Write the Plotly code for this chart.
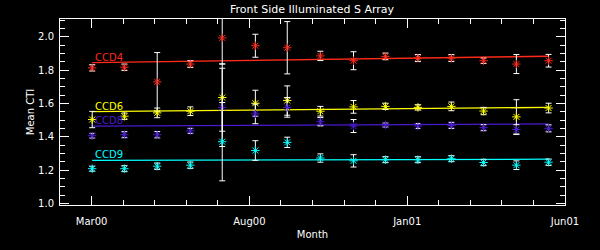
import plotly.graph_objects as go

# x positions in months since Jan 2000 (3 = Mar00, 18 = Jun01)
months = [3.02, 4.04, 5.08, 6.13, 7.14, 8.19, 9.20, 10.25, 11.30, 12.31, 13.34, 14.40, 15.42, 16.46, 17.48]

ccd4 = [1.814, 1.818, 1.730, 1.837, 1.994, 1.947, 1.935, 1.886, 1.857, 1.883, 1.873, 1.873, 1.857, 1.837, 1.857]
ccd4_err = [0.019, 0.019, 0.176, 0.020, 0.157, 0.069, 0.157, 0.028, 0.054, 0.020, 0.021, 0.021, 0.016, 0.057, 0.038]

ccd6 = [1.504, 1.524, 1.544, 1.554, 1.636, 1.602, 1.618, 1.554, 1.580, 1.583, 1.577, 1.583, 1.555, 1.520, 1.573]
ccd6_err = [0.049, 0.019, 0.029, 0.026, 0.202, 0.078, 0.088, 0.029, 0.038, 0.019, 0.016, 0.026, 0.022, 0.103, 0.029]

ccd8 = [1.407, 1.413, 1.413, 1.436, 1.577, 1.538, 1.577, 1.491, 1.465, 1.471, 1.465, 1.469, 1.455, 1.444, 1.451]
ccd8_err = [0.014, 0.018, 0.019, 0.015, 0.235, 0.059, 0.059, 0.025, 0.039, 0.012, 0.015, 0.018, 0.018, 0.029, 0.021]

ccd9 = [1.209, 1.209, 1.224, 1.230, 1.371, 1.318, 1.367, 1.273, 1.256, 1.263, 1.263, 1.269, 1.246, 1.230, 1.248]
ccd9_err = [0.015, 0.018, 0.019, 0.019, 0.235, 0.059, 0.031, 0.025, 0.037, 0.018, 0.018, 0.018, 0.019, 0.026, 0.019]

trend_x = [3.02, 17.48]
ccd4_trend = [1.846, 1.884]
ccd6_trend = [1.552, 1.577]
ccd8_trend = [1.464, 1.478]
ccd9_trend = [1.259, 1.266]

tick_vals = [3, 8, 13, 18]
tick_text = ["Mar00", "Aug00", "Jan01", "Jun01"]
minor_vals = list(range(2, 19))

series = [
    ("CCD4", ccd4, ccd4_err, ccd4_trend, "#ff2a1a"),
    ("CCD6", ccd6, ccd6_err, ccd6_trend, "#ffff00"),
    ("CCD8", ccd8, ccd8_err, ccd8_trend, "#4a1ad0"),
    ("CCD9", ccd9, ccd9_err, ccd9_trend, "#00ffff"),
]

FONT = "DejaVu Sans"
fig = go.Figure()

for name, vals, errs, trend, col in series:
    fig.add_trace(go.Scatter(
        x=trend_x, y=trend, mode="lines",
        line=dict(color=col, width=1.3), hoverinfo="skip", showlegend=False))

for name, vals, errs, trend, col in series:
    fig.add_trace(go.Scatter(
        x=months, y=vals, mode="markers", name=name,
        marker=dict(symbol="asterisk-open", size=7, color=col,
                    line=dict(color=col, width=1)),
        error_y=dict(type="data", array=errs, visible=True,
                     color="white", thickness=1, width=3),
        showlegend=False))
    fig.add_annotation(x=trend_x[0], y=trend[0], text=name, showarrow=False,
                       xanchor="left", yanchor="bottom", xshift=1, yshift=-2,
                       font=dict(family=FONT, size=10, color=col))

axis_common = dict(
    showline=True, linecolor="white", linewidth=1, mirror="ticks",
    ticks="inside", tickcolor="white", ticklen=9, tickwidth=1,
    showgrid=False, zeroline=False,
    tickfont=dict(family=FONT, size=10, color="white"),
)

fig.update_xaxes(
    range=[2, 18], tickmode="array", tickvals=tick_vals, ticktext=tick_text,
    minor=dict(tickmode="array", tickvals=minor_vals, ticks="inside",
               ticklen=5, tickcolor="white", showgrid=False),
    title=dict(text="Month", font=dict(family=FONT, size=10, color="white"), standoff=4),
    ticklabelstandoff=7,
    **axis_common)

fig.update_yaxes(
    range=[0.991, 2.1075], tickmode="linear", tick0=1.0, dtick=0.2,
    tickformat=".1f",
    minor=dict(tickmode="linear", tick0=1.0, dtick=0.05, ticks="inside",
               ticklen=5, tickcolor="white", showgrid=False),
    title=dict(text="Mean CTI", font=dict(family=FONT, size=10, color="white"), standoff=1),
    ticklabelstandoff=3,
    **axis_common)

fig.update_layout(
    width=600, height=250,
    margin=dict(l=60, r=35, t=19, b=41),
    paper_bgcolor="black", plot_bgcolor="black",
    title=dict(text="Front Side Illuminated S Array", x=0.52, xanchor="center",
               y=0.965, yanchor="middle",
               font=dict(family=FONT, size=11, color="white")),
    showlegend=False,
)

fig.write_html("out.html")
